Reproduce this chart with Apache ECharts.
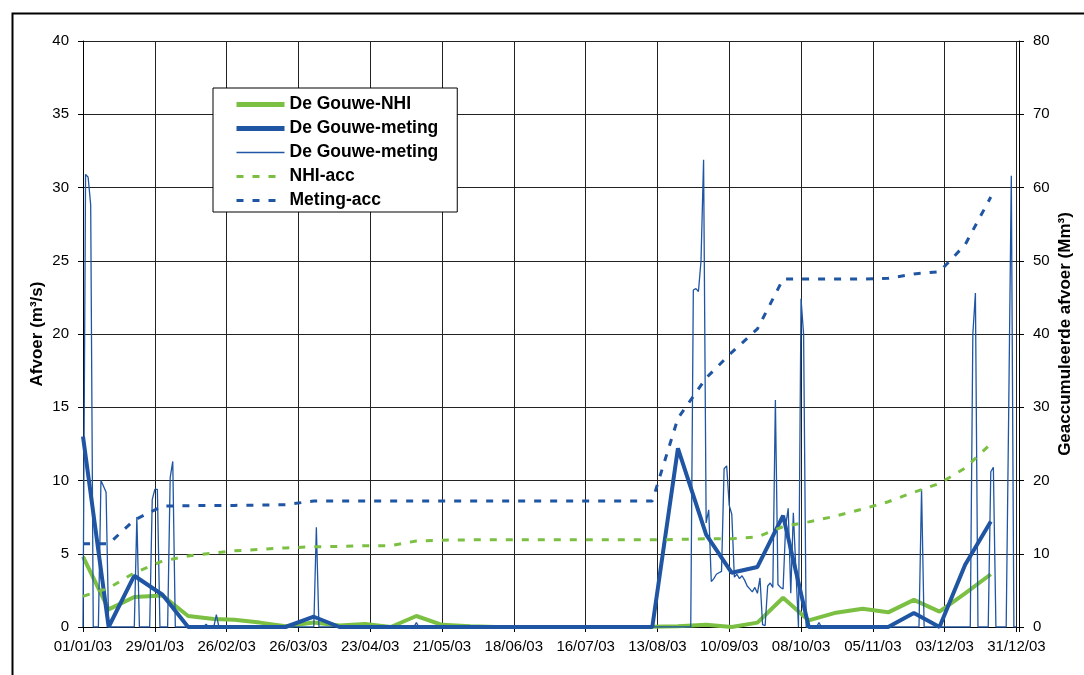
<!DOCTYPE html>
<html>
<head>
<meta charset="utf-8">
<script src="https://cdn.jsdelivr.net/npm/echarts@6/dist/echarts.min.js"></script>
<style>
  html, body { margin: 0; padding: 0; background: #ffffff; }
  #chart { width: 1084px; height: 675px; }
</style>
</head>
<body>
<div id="chart"></div>
<script>
// Decade start dates (1st, 11th, 21st of each month, 2003)
const decadeDates = [
  '01-01','01-11','01-21','02-01','02-11','02-21','03-01','03-11','03-21',
  '04-01','04-11','04-21','05-01','05-11','05-21','06-01','06-11','06-21',
  '07-01','07-11','07-21','08-01','08-11','08-21','09-01','09-11','09-21',
  '10-01','10-11','10-21','11-01','11-11','11-21','12-01','12-11','12-21'
];

// Decade mean discharge, model (m3/s)
const nhiDecade = [
  4.8, 1.2, 2.05, 2.15, 0.75, 0.55, 0.5, 0.3, 0.05,
  0.3, 0.1, 0.2, 0.0, 0.75, 0.15, 0.05, 0, 0,
  0, 0, 0, 0, 0.02, 0.05, 0.15, 0.0, 0.3,
  2.0, 0.45, 0.95, 1.25, 1.0, 1.85, 1.05, 2.3, 3.6
];

// Decade mean discharge, measured (m3/s)
const metingDecade = [
  13.0, 0, 3.5, 2.2, 0, 0, 0, 0, 0,
  0.7, 0, 0, 0, 0, 0, 0, 0, 0,
  0, 0, 0, 0, 0, 12.2, 6.3, 3.7, 4.1,
  7.6, 0, 0, 0, 0, 0.95, 0, 4.25, 7.2
];

// Accumulated discharge, model (Mm3)
const nhiAcc = [
  4.2, 5.3, 7.4, 9.0, 9.7, 10.1, 10.4, 10.6, 10.8,
  10.95, 11.0, 11.1, 11.1, 11.75, 11.85, 11.9, 11.9, 11.9,
  11.9, 11.9, 11.9, 11.9, 11.9, 11.95, 12.05, 12.05, 12.3,
  13.7, 14.35, 15.1, 16.1, 17.1, 18.4, 19.6, 21.7, 25.0
];

// Accumulated discharge, measured (Mm3)
const metingAcc = [
  11.35, 11.35, 14.6, 16.5, 16.55, 16.6, 16.6, 16.65, 16.7,
  17.2, 17.2, 17.2, 17.2, 17.2, 17.2, 17.2, 17.2, 17.2,
  17.2, 17.2, 17.2, 17.2, 17.2, 28.5, 34.0, 37.5, 40.7,
  47.5, 47.5, 47.5, 47.5, 47.6, 48.2, 48.5, 52.2, 58.7
];

// Daily measured discharge (m3/s); dry days between listed dates are 0
const dailyDates = [
  '01-01','01-02','01-03','01-04','01-05','01-07','01-08','01-09','01-10','01-11',
  '01-21','01-22','01-23','01-27','01-28','01-29','01-30','01-31',
  '02-03','02-04','02-05','02-06','02-17','02-18','02-19','02-21','02-22','02-23',
  '04-01','04-02','04-03','05-10','05-11','05-12',
  '08-26','08-27','08-28','08-29','08-30','08-31',
  '09-01','09-02','09-03','09-04','09-05','09-06','09-07','09-08','09-09','09-10',
  '09-11','09-12','09-13','09-14','09-15','09-16','09-17','09-18','09-19','09-20',
  '09-21','09-22','09-23','09-24','09-25','09-26','09-27','09-28','09-29','09-30',
  '10-01','10-02','10-03','10-04','10-05','10-06','10-07','10-08','10-09','10-10',
  '10-14','10-15','10-16',
  '11-23','11-24','11-25',
  '12-13','12-14','12-15','12-16','12-20','12-21','12-22','12-23',
  '12-27','12-28','12-29','12-30','12-31'
];
const dailyValues = [
  0, 30.9, 30.7, 28.8, 0, 0, 10.0, 9.6, 9.2, 0,
  0, 7.5, 0, 0, 8.7, 9.4, 9.4, 0,
  0, 10.2, 11.3, 0, 0, 0.2, 0, 0, 0.85, 0,
  0, 6.8, 0, 0, 0.3, 0,
  0, 23.0, 23.1, 22.9, 25.0, 31.9,
  7.1, 8.0, 3.1, 3.3, 3.6, 3.7, 3.8, 10.8, 11.0, 8.3,
  7.7, 3.4, 3.6, 3.3, 3.5, 3.2, 2.8, 2.6, 2.4, 2.7,
  2.3, 3.35, 0.16, 0.1, 2.8, 3.0, 2.7, 15.5, 2.9, 2.7,
  2.6, 6.9, 8.1, 2.3, 7.8, 3.9, 0, 22.4, 20.0, 0,
  0, 0.3, 0,
  0, 9.4, 0,
  0, 20.0, 22.8, 0, 0, 10.6, 10.9, 0,
  0, 15.0, 30.8, 0, 0
];

// x ticks every 28 days from 1 January
const tickStepDays = 28;
const yearStart = Date.UTC(2003, 0, 1);

function dayOfYear(md) {
  const [m, d] = md.split('-').map(Number);
  return Math.round((Date.UTC(2003, m - 1, d) - yearStart) / 86400000);
}
function pairs(dates, values) {
  return dates.map((md, i) => [dayOfYear(md), values[i]]);
}
function dayLabel(v) {
  if (v > 364) return '';
  const dt = new Date(yearStart + v * 86400000);
  const dd = String(dt.getUTCDate()).padStart(2, '0');
  const mm = String(dt.getUTCMonth() + 1).padStart(2, '0');
  return dd + '/' + mm + '/' + String(dt.getUTCFullYear()).slice(2);
}

const GREEN = '#7bc043';
const BLUE = '#1f55a3';
const FONT = 'Liberation Sans, Arial, sans-serif';
const DASH = [7, 9];

const legendText = {
  nhi: 'De Gouwe-NHI',
  metingDec: 'De Gouwe-meting',
  metingDag: 'De Gouwe-meting',
  nhiAcc: 'NHI-acc',
  metingAcc: 'Meting-acc'
};

const chart = echarts.init(document.getElementById('chart'), null, { renderer: 'canvas' });

const gridLine = { show: true, lineStyle: { color: '#222', width: 1 } };
const tickLabel = { color: '#000', fontFamily: FONT, fontSize: 15 };
const axisTitle = { fontFamily: FONT, fontSize: 17, fontWeight: 'bold', color: '#000' };

chart.setOption({
  animation: false,
  backgroundColor: '#ffffff',
  graphic: [{
    type: 'rect',
    left: 10, top: 11,
    shape: { x: 0, y: 0, width: 1200, height: 800 },
    style: { fill: null, stroke: '#000', lineWidth: 2 },
    silent: true, z: -1
  }],
  grid: { left: 83, right: 65, top: 41, bottom: 48, containLabel: false },
  legend: {
    orient: 'vertical',
    left: 213, top: 88,
    padding: [6, 19, 1, 21],
    itemWidth: 48, itemHeight: 14, itemGap: 3,
    backgroundColor: '#ffffff',
    borderColor: '#000', borderWidth: 1,
    itemStyle: { opacity: 0 },
    formatter: name => legendText[name],
    textStyle: { fontFamily: FONT, fontSize: 17.5, fontWeight: 'bold', color: '#000', lineHeight: 21 },
    data: [
      { name: 'nhi', lineStyle: { width: 5 } },
      { name: 'metingDec', lineStyle: { width: 5 } },
      { name: 'metingDag', lineStyle: { width: 1.5 } },
      { name: 'nhiAcc', lineStyle: { width: 3, type: DASH } },
      { name: 'metingAcc', lineStyle: { width: 3, type: DASH } }
    ]
  },
  xAxis: {
    type: 'value',
    min: 0, max: 365, interval: tickStepDays,
    axisLine: { show: true, onZero: false, lineStyle: { color: '#000', width: 1 } },
    axisTick: { show: true, length: 5, lineStyle: { color: '#000' } },
    axisLabel: Object.assign({ formatter: dayLabel, margin: 12 }, tickLabel),
    splitLine: gridLine
  },
  yAxis: [{
    type: 'value',
    min: 0, max: 40, interval: 5,
    name: 'Afvoer (m³/s)',
    nameLocation: 'middle', nameRotate: 90, nameGap: 37,
    nameMoveOverlap: false,
    nameTextStyle: axisTitle,
    axisLine: { show: true, lineStyle: { color: '#000', width: 1 } },
    axisTick: { show: true, length: 5, lineStyle: { color: '#000' } },
    axisLabel: Object.assign({ margin: 14 }, tickLabel),
    splitLine: gridLine
  }, {
    type: 'value',
    min: 0, max: 80, interval: 10,
    position: 'right',
    name: 'Geaccumuleerde afvoer (Mm³)',
    nameLocation: 'middle', nameRotate: 90, nameGap: 38,
    nameMoveOverlap: false,
    nameTextStyle: axisTitle,
    axisLine: { show: true, lineStyle: { color: '#000', width: 1 } },
    axisTick: { show: true, length: 5, lineStyle: { color: '#000' } },
    axisLabel: Object.assign({ margin: 14 }, tickLabel),
    splitLine: { show: false }
  }],
  series: [{
    name: 'nhi', type: 'line', yAxisIndex: 0,
    data: pairs(decadeDates, nhiDecade),
    symbol: 'none', color: GREEN,
    lineStyle: { color: GREEN, width: 4 }
  }, {
    name: 'metingDec', type: 'line', yAxisIndex: 0,
    data: pairs(decadeDates, metingDecade),
    symbol: 'none', color: BLUE,
    lineStyle: { color: BLUE, width: 4 }
  }, {
    name: 'metingDag', type: 'line', yAxisIndex: 0,
    data: pairs(dailyDates, dailyValues),
    symbol: 'none', color: BLUE,
    lineStyle: { color: BLUE, width: 1.3 }
  }, {
    name: 'nhiAcc', type: 'line', yAxisIndex: 1,
    data: pairs(decadeDates, nhiAcc),
    symbol: 'none', color: GREEN,
    lineStyle: { color: GREEN, width: 3, type: DASH }
  }, {
    name: 'metingAcc', type: 'line', yAxisIndex: 1,
    data: pairs(decadeDates, metingAcc),
    symbol: 'none', color: BLUE,
    lineStyle: { color: BLUE, width: 3, type: DASH }
  }]
});
</script>
</body>
</html>
